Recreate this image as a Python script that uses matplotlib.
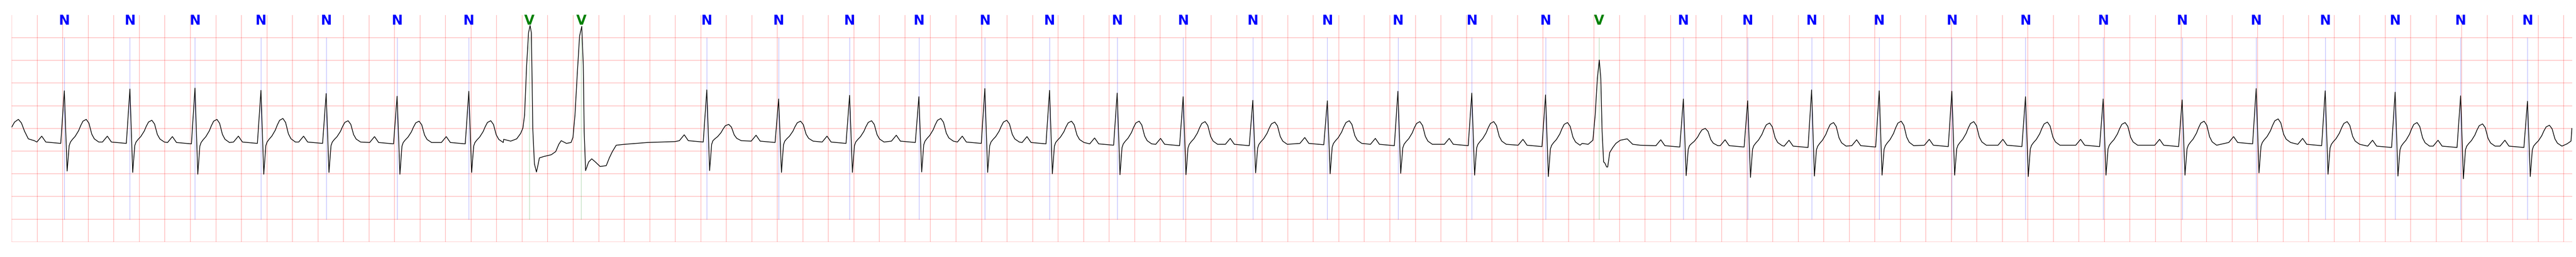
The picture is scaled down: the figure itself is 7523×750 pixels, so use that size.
import numpy as np
import matplotlib
matplotlib.use("Agg")
import matplotlib.pyplot as plt
import matplotlib.transforms as mtransforms

############### DATA ###################

# beat annotations (time of R peak in s, label)
beat_t = [0.412, 0.926, 1.436, 1.953, 2.464, 3.020, 3.582, 4.057, 4.463,
          5.447, 6.010, 6.566, 7.109, 7.626, 8.133, 8.663, 9.180, 9.726,
          10.310, 10.863, 11.442, 12.020, 12.440, 13.100, 13.604, 14.105,
          14.635, 15.204, 15.781, 16.390, 17.009, 17.589, 18.130, 18.678,
          19.191, 19.715]
beat_sym = ["N", "N", "N", "N", "N", "N", "N", "V", "V",
            "N", "N", "N", "N", "N", "N", "N", "N", "N",
            "N", "N", "N", "N", "V", "N", "N", "N",
            "N", "N", "N", "N", "N", "N", "N", "N",
            "N", "N"]

nan = float("nan")
r_mv = [0.83, 0.87, 0.89, 0.84, 0.77, 0.71, 0.82, nan, nan,
        0.85, 0.65, 0.73, 0.70, 0.88, 0.84, 0.78, 0.70, 0.62,
        0.61, 0.82, 0.78, 0.74, nan, 0.65, 0.61, 0.85,
        0.83, 0.82, 0.70, 0.65, 0.63, 0.88, 0.83, 0.80,
        0.72, 0.60]
s_mv = [-0.94, -0.97, -1.01, -1.01, -0.97, -1.01, -0.97, nan, nan,
        -0.93, -0.97, -0.97, -0.96, -0.97, -1.00, -1.02, -1.02, -0.98,
        -1.00, -0.99, -1.03, -1.06, nan, -1.04, -1.08, -1.05,
        -1.03, -1.03, -1.06, -1.03, -1.03, -0.98, -1.01, -1.05,
        -1.11, -1.06]
t_mv = [0.20, 0.18, 0.20, 0.22, 0.17, 0.16, 0.17, nan, nan,
        0.09, 0.16, 0.17, 0.22, 0.18, 0.16, 0.16, 0.15, 0.14,
        0.17, 0.15, 0.15, 0.13, nan, 0.00, 0.12, 0.13,
        0.16, 0.15, 0.14, 0.13, 0.16, 0.21, 0.15, 0.13,
        0.10, 0.07]
base_mv = [-0.30, -0.30, -0.31, -0.30, -0.30, -0.31, -0.31, nan, nan,
           -0.27, -0.28, -0.30, -0.28, -0.30, -0.31, -0.34, -0.35, -0.35,
           -0.33, -0.35, -0.35, -0.37, nan, -0.38, -0.38, -0.39,
           -0.38, -0.37, -0.37, -0.37, -0.37, -0.31, -0.35, -0.39,
           -0.39, -0.39]

# shape of a normal beat, read from the strip (s from R, mV over baseline, part of T height)
n_dt = [-0.215, -0.177, -0.145, -0.028, 0.000, 0.022, 0.038, 0.048, 0.064,
        0.085, 0.112, 0.128, 0.146, 0.172, 0.193, 0.215, 0.235, 0.270]
n_off = [0.0, 0.13, 0.0, -0.03, 0.0, 0.0, -0.08, 0.0, 0.0,
         0.0, 0.0, 0.0, 0.0, 0.0, 0.0, 0.0, 0.0, 0.0]
n_tfrac = [0, 0, 0, 0, 0, 0, 0, 0, 0.12,
           0.25, 0.50, 0.72, 0.92, 1.0, 0.83, 0.35, 0.14, 0.0]

# pieces of the trace that are not normal beats
lead_t = [0.0, 0.022, 0.052, 0.076, 0.100, 0.130, 0.177]
lead_mv = [0.03, 0.14, 0.20, 0.12, -0.06, -0.23, -0.27]

pvc12_t = [3.855, 3.910, 3.957, 3.988, 4.006, 4.019, 4.035, 4.050, 4.062,
           4.072, 4.078, 4.083, 4.096, 4.112, 4.126, 4.135, 4.168, 4.228,
           4.263, 4.287, 4.306, 4.347, 4.383, 4.398, 4.414, 4.432, 4.450,
           4.467, 4.479, 4.486, 4.497, 4.521, 4.545, 4.574, 4.611, 4.659,
           4.683, 4.707, 4.737, 4.803, 4.982, 5.198]
pvc12_mv = [-0.24, -0.28, -0.23, -0.11, 0.01, 0.30, 1.39, 2.11, 2.27,
            2.11, 1.03, 0.01, -0.78, -0.96, -0.78, -0.65, -0.62, -0.58,
            -0.51, -0.35, -0.27, -0.33, -0.31, -0.20, 0.30, 1.21, 2.04,
            2.25, 1.39, -0.06, -0.93, -0.74, -0.67, -0.74, -0.84, -0.82,
            -0.65, -0.51, -0.37, -0.35, -0.31, -0.29]

pvc3_t = [12.307, 12.354, 12.391, 12.409, 12.426, 12.441, 12.453, 12.463,
          12.475, 12.484, 12.499, 12.507, 12.523, 12.547, 12.571, 12.606,
          12.660, 12.703, 12.762, 12.869]
pvc3_mv = [-0.33, -0.35, -0.26, 0.30, 1.10, 1.51, 1.10, -0.06,
           -0.74, -0.76, -0.85, -0.85, -0.53, -0.42, -0.33, -0.26,
           -0.23, -0.35, -0.37, -0.38]

tail_t = [20.025, 20.056, 20.063]
tail_mv = [-0.34, -0.28, 0.0]

sym_color = {"N": "blue", "V": "green"}

############### BUILD TRACE ###################

pts = list(zip(lead_t, lead_mv)) + list(zip(pvc12_t, pvc12_mv)) \
    + list(zip(pvc3_t, pvc3_mv)) + list(zip(tail_t, tail_mv))

for i in range(len(beat_t)):
  if beat_sym[i] != "N":
    continue
  b = base_mv[i]
  for k in range(len(n_dt)):
    v = b + n_off[k] + n_tfrac[k] * (t_mv[i] - b)
    if n_dt[k] == 0.0:
      v = r_mv[i]
    if n_dt[k] == 0.022:
      v = s_mv[i]
    pts.append((beat_t[i] + n_dt[k], v))

pts.sort()
ecg_t = [p[0] for p in pts]
ecg_mv = [p[1] for p in pts]

############### PLOT ###################

t_end = 20.065
fig = plt.figure(figsize=(75.23, 7.5), dpi=100)
ax = fig.add_axes([0.00456, 0.0591, 0.99394, 0.8823])

ax.set_xlim(0, t_end)
ax.set_ylim(-2.5, 2.5)
ax.set_xticks(np.arange(0, t_end, 0.2))
ax.set_yticks(np.arange(-2.5, 2.5, 0.5))
ax.tick_params(length=0, labelbottom=False, labelleft=False)
ax.grid(True, color="red", alpha=0.25, linewidth=1.5)
for s in ax.spines.values():
  s.set_visible(False)

ax.plot(ecg_t, ecg_mv, color="black", linewidth=1.5, zorder=3)

trans = mtransforms.blended_transform_factory(ax.transData, ax.transAxes)
for t, sym in zip(beat_t, beat_sym):
  c = sym_color[sym]
  ax.axvline(t, ymin=0.1, ymax=0.9, color=c, alpha=0.5, linewidth=0.6, zorder=2)
  ax.text(t, 0.958, sym, transform=trans, ha="center", va="baseline",
          color=c, fontsize=28, fontweight="bold",
          family=["Liberation Sans Narrow", "DejaVu Sans"])

fig.savefig("out.png", dpi=100)
